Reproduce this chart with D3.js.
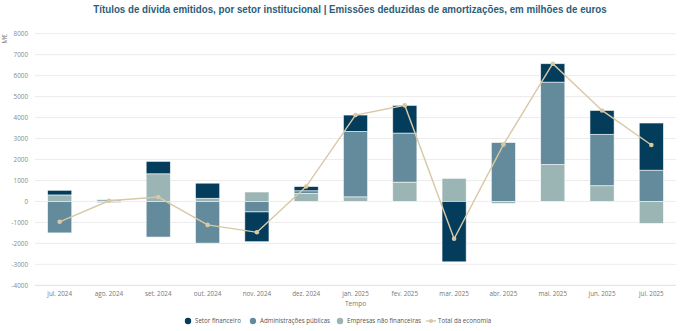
<!DOCTYPE html>
<html>
<head>
<meta charset="utf-8">
<script src="https://cdn.jsdelivr.net/npm/d3@7"></script>
<style>
  body { margin: 0; background: #fff; }
  svg { display: block; }
</style>
</head>
<body>
<svg id="chart" width="680" height="331"></svg>
<script>
const months = ["jul. 2024", "ago. 2024", "set. 2024", "out. 2024", "nov. 2024", "dez. 2024",
  "jan. 2025", "fev. 2025", "mar. 2025", "abr. 2025", "mai. 2025", "jun. 2025", "jul. 2025"];

// milhões de euros
const empresas = [310, 90, 1320, 150, 450, 380, 220, 920, 1100, -100, 1760, 750, -1050];
const administracoes = [-1500, -40, -1700, -1990, -500, 130, 3120, 2340, 0, 2810, 3930, 2450, 1490];
const financeiro = [220, -20, 590, 720, -1420, 200, 780, 1320, -2880, 0, 880, 1140, 2250];

const yTicks = [-4000, -3000, -2000, -1000, 0, 1000, 2000, 3000, 4000, 5000, 6000, 7000, 8000];

const series = [
  { key: "empresas", name: "Empresas não financeiras", color: "#9bb5b4", values: empresas },
  { key: "administracoes", name: "Administrações públicas", color: "#648b9c", values: administracoes },
  { key: "financeiro", name: "Setor financeiro", color: "#033d5b", values: financeiro }
];
const totalColor = "#d8c8a6";

const rows = months.map((m, i) => {
  const r = { month: m };
  series.forEach(s => { r[s.key] = s.values[i]; });
  r.total = series.reduce((acc, s) => acc + s.values[i], 0);
  return r;
});

const svg = d3.select("#chart");
const margin = { top: 34, right: 4, bottom: 46, left: 35 };
const width = 680, height = 331;
const labelFont = "Open Sans, sans-serif";

const x = d3.scaleBand()
  .domain(months)
  .range([margin.left, width - margin.right])
  .paddingInner(0.51)
  .paddingOuter(0.255);

const y = d3.scaleLinear()
  .domain([-4000, 8000])
  .range([285.3, 33.7]);

/* grid */
svg.append("g")
  .selectAll("line")
  .data(yTicks)
  .join("line")
  .attr("x1", margin.left)
  .attr("x2", width - margin.right)
  .attr("y1", d => y(d))
  .attr("y2", d => y(d))
  .attr("stroke", d => d === -4000 ? "#d6e0ee" : "#ececec")
  .attr("stroke-width", 1);

/* y axis labels */
svg.append("g")
  .attr("transform", `translate(${margin.left - 7},0)`)
  .call(d3.axisLeft(y).tickValues(yTicks).tickSize(0).tickPadding(0).tickFormat(d => d))
  .call(g => g.select(".domain").remove())
  .call(g => g.selectAll("text")
    .attr("font-family", labelFont)
    .attr("font-size", 6.3)
    .attr("fill", "#888"));

svg.append("text")
  .attr("transform", `translate(7,39) rotate(-90)`)
  .attr("text-anchor", "middle")
  .attr("font-family", labelFont)
  .attr("font-size", 6.5)
  .attr("fill", "#777")
  .text("M€");

/* x axis labels */
svg.append("g")
  .attr("transform", `translate(0,${y(-4000)})`)
  .call(d3.axisBottom(x).tickSize(0).tickPadding(6))
  .call(g => g.select(".domain").remove())
  .call(g => g.selectAll("text")
    .attr("font-family", labelFont)
    .attr("font-size", 6.3)
    .attr("fill", "#777"));

svg.append("text")
  .attr("x", (margin.left + width - margin.right) / 2)
  .attr("y", 305.5)
  .attr("text-anchor", "middle")
  .attr("font-family", labelFont)
  .attr("font-size", 6.5)
  .attr("fill", "#777")
  .text("Tempo");

/* stacked bars */
const stack = d3.stack()
  .keys(series.map(s => s.key))
  .offset(d3.stackOffsetDiverging);
const stacked = stack(rows);

svg.append("g")
  .selectAll("g")
  .data(stacked)
  .join("g")
  .attr("fill", (d, i) => series[i].color)
  .selectAll("rect")
  .data(d => d)
  .join("rect")
  .attr("x", d => x(d.data.month))
  .attr("width", x.bandwidth())
  .attr("y", d => y(Math.max(d[0], d[1])))
  .attr("height", d => Math.abs(y(d[0]) - y(d[1])))
  .attr("stroke", "#ffffff")
  .attr("stroke-opacity", 0.7)
  .attr("stroke-width", 0.8);

/* total line */
const line = d3.line()
  .x(d => x(d.month) + x.bandwidth() / 2)
  .y(d => y(d.total));

svg.append("path")
  .datum(rows)
  .attr("d", line)
  .attr("fill", "none")
  .attr("stroke", totalColor)
  .attr("stroke-width", 1.4);

svg.append("g")
  .selectAll("circle")
  .data(rows)
  .join("circle")
  .attr("cx", d => x(d.month) + x.bandwidth() / 2)
  .attr("cy", d => y(d.total))
  .attr("r", 2.3)
  .attr("fill", totalColor);

/* title, horizontally condensed */
const title = svg.append("text")
  .attr("text-anchor", "middle")
  .attr("font-family", "Liberation Sans, Arial, sans-serif")
  .attr("font-size", 11.5)
  .attr("font-weight", "bold")
  .attr("fill", "#2b5e7b")
  .text("Títulos de dívida emitidos, por setor institucional | Emissões deduzidas de amortizações, em milhões de euros");
const titleWidth = title.node().getComputedTextLength();
title.attr("transform", `translate(350,13) scale(${514 / titleWidth},1)`);

/* legend */
const legendItems = [
  { name: "Setor financeiro", color: series[2].color, type: "circle", x: 188 },
  { name: "Administrações públicas", color: series[1].color, type: "circle", x: 253 },
  { name: "Empresas não financeiras", color: series[0].color, type: "circle", x: 340 },
  { name: "Total da economia", color: totalColor, type: "line", x: 431 }
];
const legend = svg.append("g").attr("transform", "translate(0,321)");
legendItems.forEach(item => {
  const g = legend.append("g").attr("transform", `translate(${item.x},0)`);
  if (item.type === "circle") {
    g.append("circle").attr("r", 3.2).attr("fill", item.color);
  } else {
    g.append("line").attr("x1", -5).attr("x2", 5)
      .attr("stroke", item.color).attr("stroke-width", 1.4);
    g.append("circle").attr("r", 2).attr("fill", item.color);
  }
  g.append("text")
    .attr("x", 7)
    .attr("dy", "0.35em")
    .attr("font-family", labelFont)
    .attr("font-size", 6.2)
    .attr("fill", "#555")
    .text(item.name);
});
</script>
</body>
</html>
